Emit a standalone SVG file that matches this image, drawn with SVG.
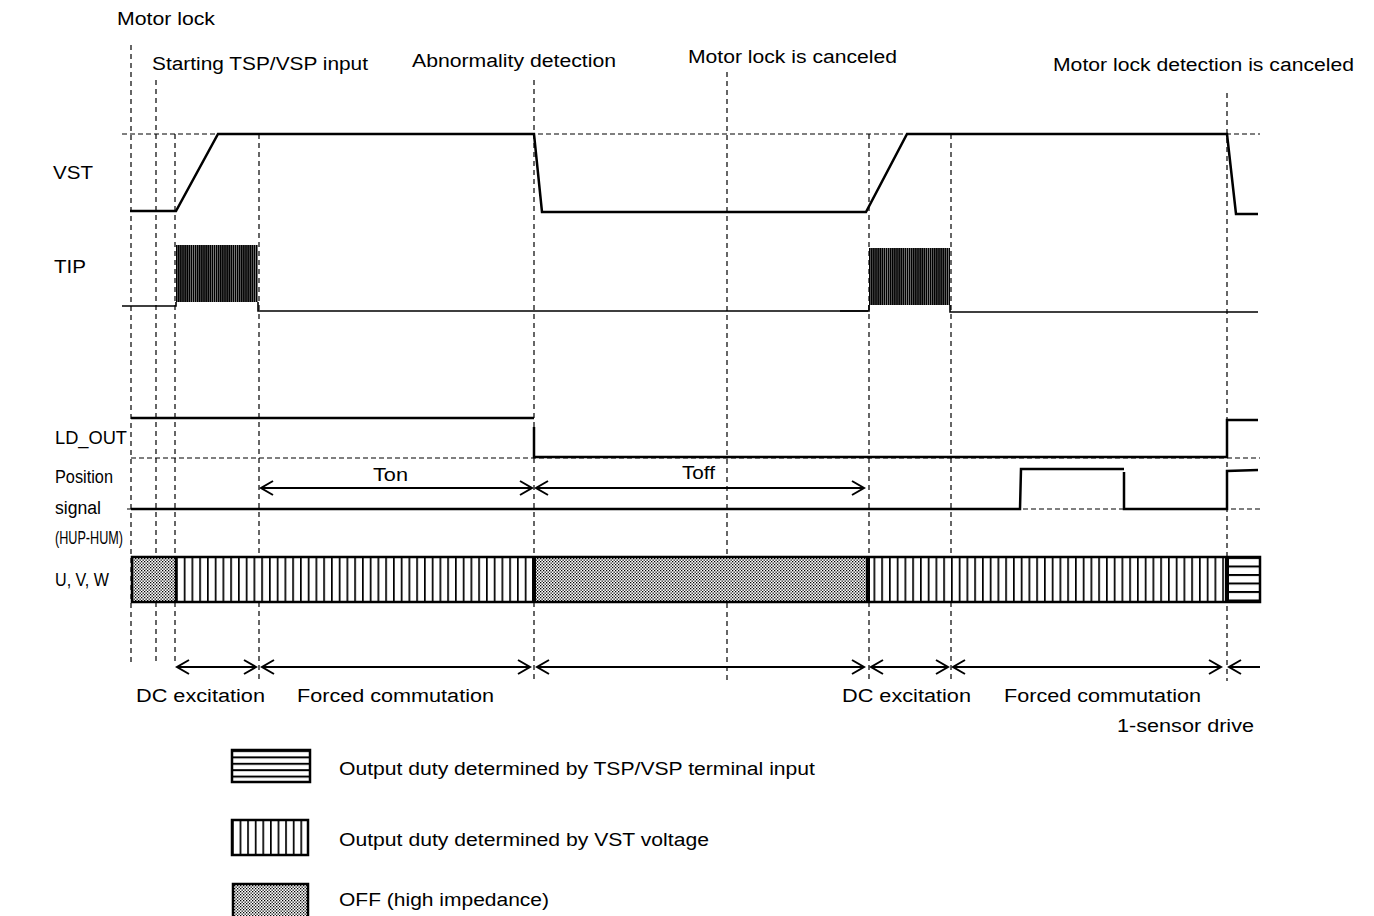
<svg xmlns="http://www.w3.org/2000/svg" width="1374" height="916" viewBox="0 0 1374 916">
<style>
.t{font-family:"Liberation Sans",Arial,sans-serif;font-size:18px;fill:#000}
.dv{stroke:#000;stroke-width:1.2;stroke-dasharray:5 4;fill:none}
.dh{stroke:#000;stroke-width:1.2;stroke-dasharray:5 3;fill:none}
.sig{stroke:#000;stroke-width:2.5;fill:none}
.thin{stroke:#000;stroke-width:1.6;fill:none}
.arr{stroke:#000;stroke-width:2;fill:none;marker-start:url(#ah);marker-end:url(#ah)}
.arr1{stroke:#000;stroke-width:2;fill:none;marker-start:url(#ah)}
.box{stroke:#000;stroke-width:2.5}
</style>
<defs>
<marker id="ah" viewBox="-14 -9 16 18" refX="0" refY="0" markerWidth="16" markerHeight="18" markerUnits="userSpaceOnUse" orient="auto-start-reverse">
<path d="M-12,-7 L0,0 L-12,7" fill="none" stroke="#000" stroke-width="2"/>
</marker>
<pattern id="dots" width="3" height="3" patternUnits="userSpaceOnUse">
<rect width="3" height="3" fill="#fff"/><rect width="1.3" height="1.3" fill="#000"/><rect x="1.5" y="1.5" width="1.3" height="1.3" fill="#000"/>
</pattern>
<pattern id="vs" x="176" y="0" width="7.75" height="10" patternUnits="userSpaceOnUse">
<rect width="7.75" height="10" fill="#fff"/><rect width="1.7" height="10" fill="#000"/>
</pattern>
<pattern id="vs2" x="232" y="0" width="7.6" height="10" patternUnits="userSpaceOnUse">
<rect width="7.6" height="10" fill="#fff"/><rect width="1.7" height="10" fill="#000"/>
</pattern>
<pattern id="hs" x="0" y="557" width="10" height="8.5" patternUnits="userSpaceOnUse">
<rect width="10" height="8.5" fill="#fff"/><rect width="10" height="2" fill="#000"/>
</pattern>
<pattern id="hs2" x="0" y="750" width="10" height="6.4" patternUnits="userSpaceOnUse">
<rect width="10" height="6.4" fill="#fff"/><rect width="10" height="2" fill="#000"/>
</pattern>
<pattern id="burst" x="176" y="0" width="2.1" height="10" patternUnits="userSpaceOnUse">
<rect width="1.75" height="10" fill="#000"/>
</pattern>
</defs>
<rect width="1374" height="916" fill="#fff"/>

<g id="guides">
<line class="dv" x1="131" y1="45" x2="131" y2="665"/>
<line class="dv" x1="156" y1="80" x2="156" y2="665"/>
<line class="dv" x1="175" y1="134" x2="175" y2="662"/>
<line class="dv" x1="259" y1="134" x2="259" y2="681"/>
<line class="dv" x1="534" y1="80" x2="534" y2="681"/>
<line class="dv" x1="727" y1="72" x2="727" y2="681"/>
<line class="dv" x1="869" y1="134" x2="869" y2="681"/>
<line class="dv" x1="951" y1="134" x2="951" y2="681"/>
<line class="dv" x1="1227" y1="93" x2="1227" y2="681"/>
<line class="dh" x1="122" y1="134" x2="1260" y2="134"/>
<line class="dh" x1="131" y1="458" x2="1260" y2="458"/>
<line class="dh" x1="127" y1="509" x2="1262" y2="509"/>
</g>

<g id="top-labels">
<text class="t" x="117" y="25" textLength="98" lengthAdjust="spacingAndGlyphs">Motor lock</text>
<text class="t" x="152" y="70" textLength="216" lengthAdjust="spacingAndGlyphs">Starting TSP/VSP input</text>
<text class="t" x="412" y="67" textLength="204" lengthAdjust="spacingAndGlyphs">Abnormality detection</text>
<text class="t" x="688" y="63" textLength="209" lengthAdjust="spacingAndGlyphs">Motor lock is canceled</text>
<text class="t" x="1053" y="71" textLength="301" lengthAdjust="spacingAndGlyphs">Motor lock detection is canceled</text>
</g>

<g id="row-labels">
<text class="t" x="53" y="179" textLength="40" lengthAdjust="spacingAndGlyphs">VST</text>
<text class="t" x="54" y="273" textLength="32" lengthAdjust="spacingAndGlyphs">TIP</text>
<text class="t" x="55" y="444" textLength="72" lengthAdjust="spacingAndGlyphs">LD_OUT</text>
<text class="t" x="55" y="483" textLength="58" lengthAdjust="spacingAndGlyphs">Position</text>
<text class="t" x="55" y="514" textLength="46" lengthAdjust="spacingAndGlyphs">signal</text>
<text class="t" x="55" y="544" textLength="68" lengthAdjust="spacingAndGlyphs">(HUP-HUM)</text>
<text class="t" x="55" y="586" textLength="54" lengthAdjust="spacingAndGlyphs">U, V, W</text>
</g>

<g id="vst">
<path class="sig" d="M130,211 L176,211 L218,134 L534,134 L542,212 L866,212 L907,134 L1227,134 L1236,214 L1258,214"/>
</g>

<g id="tip">
<path class="thin" d="M122,306 L176,306 L176,302"/>
<rect x="176" y="245" width="82" height="57" fill="url(#burst)"/>
<path class="thin" d="M258,302 L258,311 L868,311"/>
<path class="thin" d="M840,311 L869,311 L869,305"/>
<rect x="869" y="248" width="81" height="57" fill="url(#burst)"/>
<path class="thin" d="M950,305 L950,312 L1258,312"/>
</g>

<g id="ld-out">
<path class="sig" d="M131,418 L534,418"/>
<path class="sig" d="M534,427 L534,457 L1227,457 L1227,420 L1258,420"/>
</g>

<g id="position">
<path class="sig" d="M131,509 L1020,509 L1021,469 L1124,469"/>
<path class="sig" d="M1124,472 L1124,509 L1227,509 L1227,471 L1258,470"/>
</g>

<g id="uvw">
<rect x="132" y="557" width="44" height="45" fill="url(#dots)"/>
<rect x="176" y="557" width="358" height="45" fill="url(#vs)"/>
<rect x="534" y="557" width="334" height="45" fill="url(#dots)"/>
<rect x="868" y="557" width="359" height="45" fill="url(#vs)"/>
<rect x="1227" y="557" width="33" height="45" fill="url(#hs)"/>
<rect x="132" y="557" width="1128" height="45" fill="none" class="box"/>
<line x1="176" y1="557" x2="176" y2="602" stroke="#000" stroke-width="2.5"/>
<line x1="534" y1="557" x2="534" y2="602" stroke="#000" stroke-width="4"/>
<line x1="868" y1="557" x2="868" y2="602" stroke="#000" stroke-width="4"/>
<line x1="1227" y1="557" x2="1227" y2="602" stroke="#000" stroke-width="4"/>
</g>

<g id="connectors">
<line class="arr" x1="261" y1="488" x2="532" y2="488"/>
<line class="arr" x1="536" y1="488" x2="864" y2="488"/>
<line class="arr" x1="177" y1="667" x2="256" y2="667"/>
<line class="arr" x1="262" y1="667" x2="530" y2="667"/>
<line class="arr" x1="537" y1="667" x2="864" y2="667"/>
<line class="arr" x1="871" y1="667" x2="948" y2="667"/>
<line class="arr" x1="953" y1="667" x2="1221" y2="667"/>
<line class="arr1" x1="1229" y1="667" x2="1260" y2="667"/>
</g>

<g id="interval-labels">
<text class="t" x="373" y="481" textLength="35" lengthAdjust="spacingAndGlyphs">Ton</text>
<text class="t" x="682" y="479" textLength="33" lengthAdjust="spacingAndGlyphs">Toff</text>
<text class="t" x="136" y="702" textLength="129" lengthAdjust="spacingAndGlyphs">DC  excitation</text>
<text class="t" x="297" y="702" textLength="197" lengthAdjust="spacingAndGlyphs">Forced  commutation</text>
<text class="t" x="842" y="702" textLength="129" lengthAdjust="spacingAndGlyphs">DC  excitation</text>
<text class="t" x="1004" y="702" textLength="197" lengthAdjust="spacingAndGlyphs">Forced  commutation</text>
<text class="t" x="1117" y="732" textLength="137" lengthAdjust="spacingAndGlyphs">1-sensor  drive</text>
</g>

<g id="legend">
<rect x="232" y="750" width="78" height="32" fill="url(#hs2)" class="box"/>
<text class="t" x="339" y="775" textLength="476" lengthAdjust="spacingAndGlyphs">Output duty determined by TSP/VSP terminal input</text>
<rect x="232" y="820" width="76" height="35" fill="url(#vs2)" class="box"/>
<text class="t" x="339" y="846" textLength="370" lengthAdjust="spacingAndGlyphs">Output duty determined by VST voltage</text>
<rect x="233" y="884" width="75" height="34" fill="url(#dots)" class="box"/>
<text class="t" x="339" y="906" textLength="210" lengthAdjust="spacingAndGlyphs">OFF (high impedance)</text>
</g>
</svg>
